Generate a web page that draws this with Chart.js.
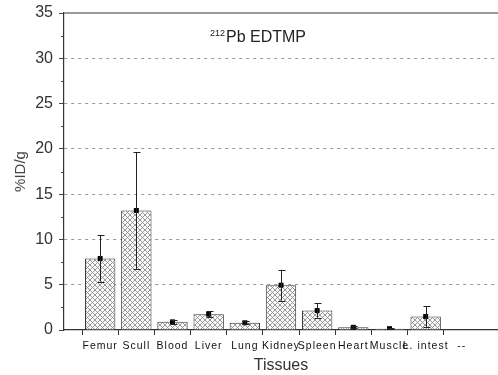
<!DOCTYPE html>
<html><head><meta charset="utf-8">
<script src="https://cdn.jsdelivr.net/npm/chart.js@4"></script>
<style>html,body{margin:0;padding:0;background:#fff}#wrap{width:498px;height:375px}</style>
</head><body><div id="wrap"><canvas id="c" width="498" height="375"></canvas></div>
<script>
const categories = ['', 'Femur', 'Scull', 'Blood', 'Liver', 'Lung', 'Kidney', 'Spleen', 'Heart', 'Muscle', 'L. intest', '--', ''];
const meanValues = [null, 7.9, 13.2, 0.9, 1.75, 0.8, 4.95, 2.15, 0.3, 0.15, 1.5, null, null];
const errorValues = [null, 2.55, 6.45, 0.2, 0.3, 0.15, 1.7, 0.78, 0.1, 0.05, 1.15, null, null];
const yTicks = [0, 5, 10, 15, 20, 25, 30, 35];
const titleSup = '212';
const titleMain = 'Pb EDTMP';

function hatch() {
  const s = 5, cv = document.createElement('canvas');
  cv.width = s; cv.height = s;
  const g = cv.getContext('2d');
  g.fillStyle = '#fafafa'; g.fillRect(0, 0, s, s);
  g.strokeStyle = '#8c8c8c'; g.lineWidth = 0.9;
  g.beginPath();
  g.moveTo(0, 0); g.lineTo(s, s);
  g.moveTo(0, s); g.lineTo(s, 0);
  g.stroke();
  return g.createPattern(cv, 'repeat');
}

const extras = {
  id: 'extras',
  afterDatasetsDraw(chart) {
    const ctx = chart.ctx, x = chart.scales.x, y = chart.scales.y;
    ctx.save();
    ctx.strokeStyle = '#222'; ctx.lineWidth = 1;
    meanValues.forEach((m, i) => {
      if (m == null) return;
      const e = errorValues[i];
      const px = Math.round(x.getPixelForValue(i)) + 0.5;
      const yt = y.getPixelForValue(m + e), yb = y.getPixelForValue(Math.max(m - e, 0));
      ctx.beginPath();
      ctx.moveTo(px, yt); ctx.lineTo(px, yb);
      ctx.moveTo(px - 3, Math.round(yt) + 0.5); ctx.lineTo(px + 4, Math.round(yt) + 0.5);
      ctx.moveTo(px - 3, Math.round(yb) + 0.5); ctx.lineTo(px + 4, Math.round(yb) + 0.5);
      ctx.stroke();
    });
    ctx.restore();
  },
  afterDraw(chart) {
    const ctx = chart.ctx, a = chart.chartArea, y = chart.scales.y;
    ctx.save();
    ctx.strokeStyle = '#777'; ctx.lineWidth = 1.5;
    ctx.beginPath(); ctx.moveTo(a.left, a.top); ctx.lineTo(a.right, a.top); ctx.stroke();
    ctx.strokeStyle = '#444'; ctx.lineWidth = 1;
    for (let v = 2.5; v < 35; v += 5) {
      const py = Math.round(y.getPixelForValue(v)) + 0.5;
      ctx.beginPath(); ctx.moveTo(a.left - 3, py); ctx.lineTo(a.left, py); ctx.stroke();
    }
    ctx.fillStyle = '#222';
    ctx.textBaseline = 'alphabetic';
    ctx.font = '9px "Liberation Sans", Arial, sans-serif';
    ctx.fillText(titleSup, 210, 36);
    const w = ctx.measureText(titleSup).width;
    ctx.font = '16px "Liberation Sans", Arial, sans-serif';
    ctx.fillText(titleMain, 211 + w, 42);
    ctx.restore();
  }
};

new Chart(document.getElementById('c'), {
  data: {
    labels: categories,
    datasets: [
      {
        type: 'line', data: meanValues, showLine: false,
        pointStyle: 'rect', pointRadius: 3.5, pointBackgroundColor: '#000', pointBorderColor: '#000',
        pointBorderWidth: 0, order: 0
      },
      {
        type: 'bar', data: meanValues, backgroundColor: hatch(), borderColor: '#3a3a3a', borderWidth: 1,
        barPercentage: 0.84, categoryPercentage: 1, order: 2
      }
    ]
  },
  plugins: [extras],
  options: {
    responsive: false, animation: false,
    layout: {autoPadding: false, padding: {top: 13, right: 0, left: 0, bottom: 0}},
    plugins: {legend: {display: false}, tooltip: {enabled: false}},
    scales: {
      x: {
        type: 'category', offset: false,
        afterFit(s) {
          s.height = 45;
          s.paddingLeft = 0; s.paddingRight = 0;
          if (!s._lsWrapped) {
            const orig = s.drawLabels.bind(s);
            s.drawLabels = function (area) {
              const ctx = s.ctx; const prev = ctx.letterSpacing;
              ctx.letterSpacing = '1px'; orig(area); ctx.letterSpacing = prev || '0px';
            };
            s._lsWrapped = true;
          }
        },
        border: {color: '#333', width: 1.2},
        grid: {drawOnChartArea: false, drawTicks: true, tickLength: 5,
          tickColor: c => c.index === 12 ? 'rgba(0,0,0,0)' : '#333'},
        ticks: {autoSkip: false, maxRotation: 0, minRotation: 0, color: '#111', padding: 5,
          font: {family: '"Liberation Sans", Arial, sans-serif', size: 10.5}},
        title: {display: true, text: 'Tissues', color: '#333', padding: {top: 0, bottom: 0},
          font: {family: '"Liberation Sans", Arial, sans-serif', size: 16}}
      },
      y: {
        min: 0, max: 35,
        afterFit(s) { s.width = 64; s.paddingTop = 0; s.paddingBottom = 0; },
        afterBuildTicks(s) { s.ticks = yTicks.map(v => ({value: v})); },
        border: {color: '#333', width: 1.2, dash: [3, 4]},
        grid: {
          color: c => (c.tick && (c.tick.value === 0 || c.tick.value === 35)) ? 'rgba(0,0,0,0)' : '#999',
          tickColor: '#444', tickLength: 5, drawTicks: true, tickBorderDash: [], tickWidth: 1
        },
        ticks: {color: '#333', padding: 6, font: {family: '"Liberation Sans", Arial, sans-serif', size: 16}},
        title: {display: true, text: '%ID/g', color: '#444', padding: {top: 12, bottom: 0},
          font: {family: '"Liberation Sans", Arial, sans-serif', size: 15}}
      }
    }
  }
});
</script></body></html>
